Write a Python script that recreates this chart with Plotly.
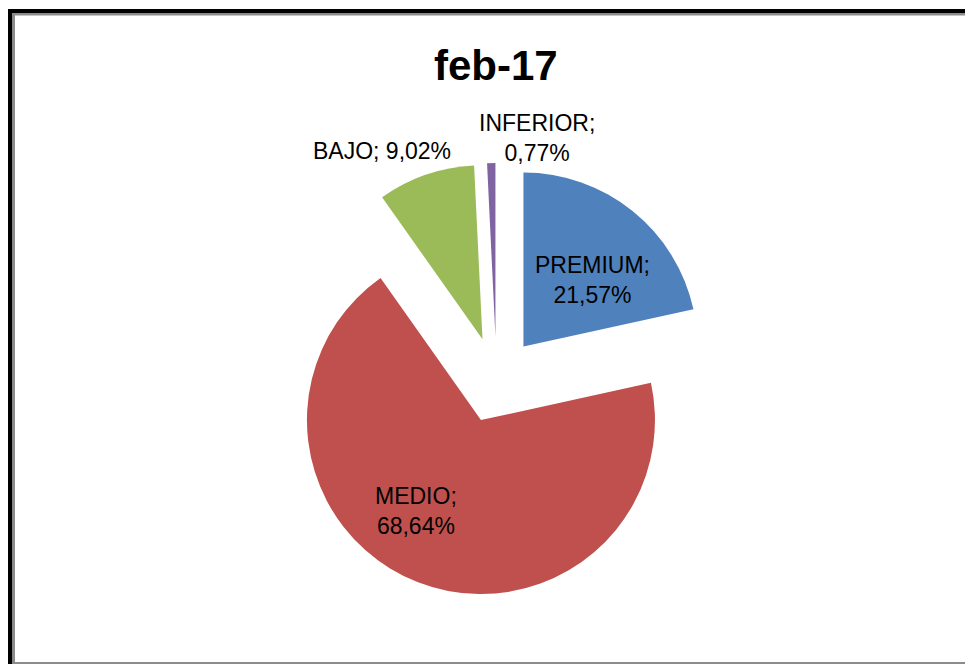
import plotly.graph_objects as go

categories = ["PREMIUM", "MEDIO", "BAJO", "INFERIOR"]
values = [21.57, 68.64, 9.02, 0.77]
colors = ["#4F81BD", "#C0504D", "#9BBB59", "#8064A2"]
title_text = "feb-17"

# the page body has an 8px margin, so the figure fills the rest of the window
OFF = 8
W, H = 973 - OFF, 664 - OFF

def px(x):
    return (x - OFF) / W

def py(y):
    return 1 - (y - OFF) / H

def fmt(v):
    return f"{v:.2f}".replace(".", ",") + "%"

fig = go.Figure(go.Pie(
    labels=categories,
    values=values,
    sort=False,
    direction="clockwise",
    rotation=0,
    pull=[0.247] * len(values),
    marker=dict(colors=colors, line=dict(width=0)),
    textinfo="none",
    hoverinfo="label+percent",
    showlegend=False,
    domain=dict(x=[px(279.5), px(713.5)], y=[py(597), py(163)]),
))

label_pos = {
    "PREMIUM": (592, 280, True),
    "MEDIO": (416, 511, True),
    "BAJO": (382, 151, False),
    "INFERIOR": (537, 138, True),
}
annotations = []
for cat, v in zip(categories, values):
    x, y, two = label_pos[cat]
    sep = "<br>" if two else " "
    annotations.append(dict(
        x=px(x), y=py(y), xref="paper", yref="paper",
        text=f"{cat};{sep}{fmt(v)}", showarrow=False,
        xanchor="center", yanchor="middle", align="center",
        font=dict(family="Liberation Sans, Arial, sans-serif", size=23, color="#000000"),
    ))
annotations.append(dict(
    x=px(496), y=py(65), xref="paper", yref="paper",
    text=f"<b>{title_text}</b>", showarrow=False,
    xanchor="center", yanchor="middle",
    font=dict(family="Liberation Sans, Arial, sans-serif", size=42, color="#000000"),
))

def bar(x0, y0, x1, y1, color):
    return dict(type="rect", xref="paper", yref="paper",
                x0=px(x0), x1=px(x1), y0=py(y1), y1=py(y0),
                fillcolor=color, line=dict(width=0), layer="above")

shapes = [
    bar(8, 9, 973, 13, "#000000"),
    bar(8, 9, 12.5, 664, "#000000"),
    bar(12.5, 13, 973, 15.5, "#8c8c8c"),
    bar(12.5, 13, 15, 664, "#8c8c8c"),
    bar(12.5, 662, 973, 664, "#8c8c8c"),
]

fig.update_layout(
    width=W, height=H,
    margin=dict(l=0, r=0, t=0, b=0),
    paper_bgcolor="#ffffff",
    plot_bgcolor="#ffffff",
    annotations=annotations,
    shapes=shapes,
)

fig.write_html("out.html")
